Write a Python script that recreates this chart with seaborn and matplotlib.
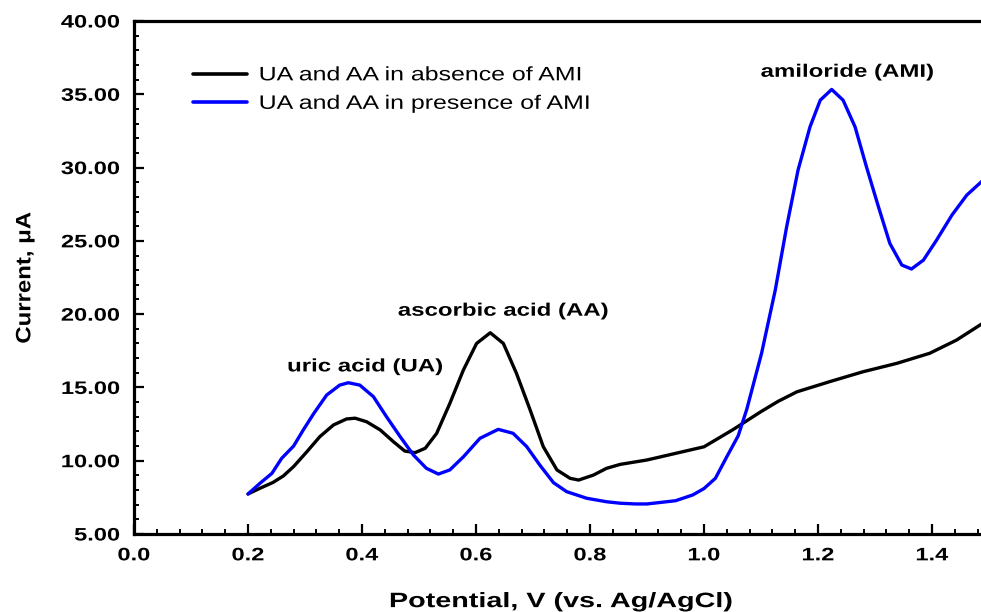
import numpy as np
import pandas as pd
import matplotlib
matplotlib.use("Agg")
import matplotlib.pyplot as plt
import seaborn as sns
from matplotlib.ticker import MultipleLocator, FormatStrFormatter
from matplotlib.patheffects import AbstractPathEffect
from matplotlib.transforms import Affine2D

# Potential (V) and current (uA)
v_abs = [0.200, 0.221, 0.244, 0.262, 0.280, 0.303, 0.326, 0.350, 0.373, 0.388, 0.408,
         0.432, 0.455, 0.475, 0.493, 0.511, 0.531, 0.554, 0.578, 0.601, 0.625, 0.648,
         0.671, 0.695, 0.718, 0.742, 0.765, 0.780, 0.806, 0.829, 0.853, 0.900, 0.950,
         1.000, 1.050, 1.100, 1.130, 1.163, 1.221, 1.279, 1.338, 1.396, 1.443, 1.490]
i_abs = [7.73, 8.12, 8.52, 8.96, 9.6, 10.6, 11.64, 12.44, 12.85, 12.9, 12.66,
         12.1, 11.3, 10.66, 10.55, 10.85, 11.87, 13.9, 16.2, 18.0, 18.73, 18.0,
         15.96, 13.46, 10.96, 9.37, 8.8, 8.68, 9.02, 9.48, 9.75, 10.05, 10.5,
         10.95, 12.1, 13.35, 14.05, 14.7, 15.4, 16.07, 16.64, 17.33, 18.23, 19.4]

v_pre = [0.200, 0.221, 0.242, 0.259, 0.280, 0.297, 0.315, 0.338, 0.361, 0.376, 0.396,
         0.420, 0.443, 0.467, 0.490, 0.513, 0.534, 0.554, 0.578, 0.607, 0.639, 0.665,
         0.689, 0.712, 0.736, 0.759, 0.794, 0.829, 0.853, 0.880, 0.900, 0.950, 0.980,
         1.000, 1.020, 1.040, 1.060, 1.075, 1.101, 1.125, 1.145, 1.165, 1.186, 1.204,
         1.224, 1.244, 1.265, 1.285, 1.306, 1.326, 1.347, 1.364, 1.385, 1.408, 1.435,
         1.461, 1.490]
i_pre = [7.73, 8.46, 9.14, 10.16, 11.0, 12.1, 13.2, 14.48, 15.16, 15.32, 15.16,
         14.37, 13.0, 11.64, 10.4, 9.48, 9.09, 9.37, 10.27, 11.53, 12.14, 11.87,
         10.96, 9.7, 8.5, 7.89, 7.44, 7.2, 7.1, 7.05, 7.05, 7.27, 7.66,
         8.1, 8.8, 10.27, 11.7, 13.5, 17.33, 21.64, 25.96, 29.83, 32.78, 34.6,
         35.33, 34.6, 32.78, 30.05, 27.33, 24.83, 23.35, 23.08, 23.69, 25.05, 26.76,
         28.12, 29.15]

series_names = ["UA and AA in absence of AMI", "UA and AA in presence of AMI"]
series_colors = ["#000000", "#0000ff"]

annotations = ["uric acid (UA)", "ascorbic acid (AA)", "amiloride (AMI)"]
ann_x = [0.405, 0.647, 1.251]
ann_y = [16.4, 20.2, 36.5]


class HStretch(AbstractPathEffect):
    """Stretch text glyphs along the text direction."""
    def __init__(self, sx, anchor="center"):
        super().__init__()
        self.sx = sx
        self.anchor = anchor

    def draw_path(self, renderer, gc, tpath, affine, rgbFace=None):
        ext = tpath.get_extents()
        if self.anchor == "left":
            a = ext.x0
        elif self.anchor == "right":
            a = ext.x1
        else:
            a = 0.5 * (ext.x0 + ext.x1)
        t = Affine2D().translate(-a, 0).scale(self.sx, 1).translate(a, 0) + affine
        renderer.draw_path(gc, tpath, t, rgbFace)


df = pd.concat([
    pd.DataFrame({"V": v_abs, "I": i_abs, "series": series_names[0]}),
    pd.DataFrame({"V": v_pre, "I": i_pre, "series": series_names[1]}),
])

sns.set_style("ticks")
plt.rcParams["font.family"] = ["Liberation Sans", "DejaVu Sans"]
plt.rcParams["text.color"] = "black"
plt.rcParams["axes.labelcolor"] = "black"
plt.rcParams["xtick.color"] = "black"
plt.rcParams["ytick.color"] = "black"

fig = plt.figure(figsize=(9.81, 6.12), dpi=100)
ax = fig.add_axes([134 / 981, 1 - 534 / 612, 1.5 * 570 / 981, (534 - 21) / 612])

sns.lineplot(data=df, x="V", y="I", hue="series", palette=series_colors,
             hue_order=series_names, sort=False, estimator=None, linewidth=2.4, ax=ax)

ax.set_xlim(0, 1.5)
ax.set_ylim(5, 40)
ax.xaxis.set_major_locator(MultipleLocator(0.2))
ax.xaxis.set_minor_locator(MultipleLocator(0.04))
ax.yaxis.set_major_locator(MultipleLocator(5))
ax.yaxis.set_minor_locator(MultipleLocator(1))
ax.xaxis.set_major_formatter(FormatStrFormatter("%.1f"))
ax.yaxis.set_major_formatter(FormatStrFormatter("%.2f"))

ax.tick_params(which="major", direction="in", length=7, width=1.6, labelsize=13)
ax.tick_params(axis="x", which="major", pad=9.6)
ax.tick_params(axis="y", which="major", pad=10)
ax.tick_params(which="minor", direction="in", length=3.5, width=1.4)
for lab in ax.get_xticklabels():
    lab.set_fontweight("bold")
    lab.set_path_effects([HStretch(1.31, "center")])
for lab in ax.get_yticklabels():
    lab.set_fontweight("bold")
    lab.set_path_effects([HStretch(1.31, "right")])

for s in ["left", "bottom", "top"]:
    ax.spines[s].set_linewidth(2.3)
    ax.spines[s].set_color("black")
ax.spines["right"].set_visible(False)

xl = ax.set_xlabel("Potential, V (vs. Ag/AgCl)", fontsize=15, fontweight="bold", labelpad=20)
xl.set_path_effects([HStretch(1.38, "center")])
yl = ax.set_ylabel("Current, μA", fontsize=15, fontweight="bold", labelpad=29)
yl.set_path_effects([HStretch(1.15, "center")])

for t, x, y in zip(annotations, ann_x, ann_y):
    txt = ax.text(x, y, t, ha="center", va="center", fontsize=13, fontweight="bold")
    txt.set_path_effects([HStretch(1.33, "center")])

leg = ax.legend(loc="upper left", bbox_to_anchor=(0.0485, 0.945), frameon=False,
                fontsize=14, handlelength=2.8, handletextpad=0.6, labelspacing=0.56)
for line in leg.get_lines():
    line.set_linewidth(2.6)
for txt in leg.get_texts():
    txt.set_path_effects([HStretch(1.28, "left")])

fig.savefig("out.png", dpi=100)
